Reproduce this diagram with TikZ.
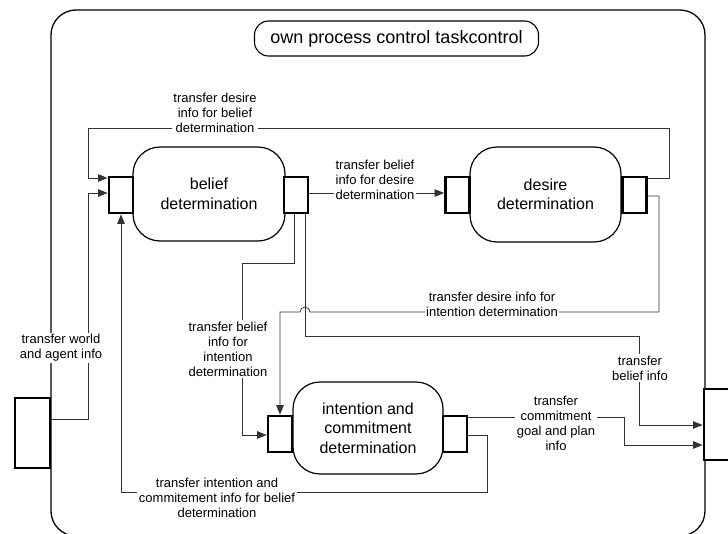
\documentclass[tikz,border=0pt]{standalone}
\usepackage{fontspec}
\setmainfont{Liberation Sans}
\usetikzlibrary{arrows.meta}
\begin{document}
\begin{tikzpicture}[x=1pt,y=-1pt,
  frame/.style={draw=black, line width=1.3pt, rounded corners=25pt},
  titlebox/.style={draw, line width=1.1pt, rounded corners=14pt, minimum width=284pt, minimum height=35pt, inner sep=0pt, font=\fontsize{18}{20}\selectfont},
  proc/.style={draw, line width=1.2pt, rounded corners=27pt, fill=white, align=center, inner sep=0pt, font=\fontsize{16}{19.5}\selectfont},
  port/.style={draw, line width=2.8pt, fill=white, minimum width=24pt, minimum height=36pt, inner sep=0pt},
  extbox/.style={draw, line width=2.8pt, fill=white, inner sep=0pt},
  flow/.style={draw=black!80, line width=0.75pt},
  arr/.style={flow, -{Triangle[length=9.5pt,width=7.5pt]}},
  lbl/.style={fill=white, align=center, inner sep=1.5pt, font=\fontsize{13}{15}\selectfont},
]
\useasboundingbox (0,0) rectangle (728,533);
\clip (0,0) rectangle (728,533);

% enclosing task control frame
\draw[frame] (51,10) rectangle (705,536);
\node[titlebox] (title) at (396.5,38.5) {own process control taskcontrol};

% processes
\node[proc, minimum width=152pt, minimum height=94pt] (belief) at (209,194) {belief\\determination};
\node[proc, minimum width=151pt, minimum height=95pt] (desire) at (545.5,194.5) {desire\\determination};
\node[proc, minimum width=150pt, minimum height=92pt] (intent) at (368,428) {intention and\\commitment\\determination};

% interface ports
\node[port] (bin)  at (121,195) {};
\node[port] (bout) at (296,195) {};
\node[port] (din)  at (457.5,195) {};
\node[port] (dout) at (634.5,195) {};
\node[port] (iin)  at (280,434) {};
\node[port] (iout) at (455,434) {};

% external input and output
\node[extbox, minimum width=35pt, minimum height=70pt] (world) at (32.5,433) {};
\node[extbox, minimum width=46pt, minimum height=71pt] (outside) at (727,424.5) {};

% information links
\draw[arr] (dout.east |- 0,178) -- (669,178) -- (669,128) -- (88,128) -- (88,178) -- (bin.west |- 0,178);
\draw[arr] (world.east |- 0,419) -- (88,419) -- (88,193) -- (bin.west |- 0,193);
\draw[arr] (bout.east |- 0,193) -- (din.west |- 0,193);
\draw[arr] (bout.south -| 294,0) -- (294,263) -- (242,263) -- (242,435) -- (iin.west |- 0,435);
\draw[arr] (bout.south -| 305,0) -- (305,336) -- (639,336) -- (639,425) -- (outside.west |- 0,425);
\draw[arr] (dout.east |- 0,196) -- (659,196) -- (659,312) -- (310,312)
  arc[start angle=0, end angle=-180, radius=5] -- (280,312) -- (iin.north);
\draw[arr] (iout.east |- 0,417) -- (624,417) -- (624,445) -- (outside.west |- 0,445);
\draw[arr] (iout.east |- 0,435) -- (487,435) -- (487,492) -- (121,492) -- (bin.south);

% link labels
\node[lbl] (l1) at (215,113) {transfer desire\\info for belief\\determination};
\node[lbl] (l2) at (61,348) {transfer world\\and agent info};
\node[lbl] (l3) at (375,180) {transfer belief\\info for desire\\determination};
\node[lbl] (l4) at (228,349) {transfer belief\\info for\\intention\\determination};
\node[lbl] (l5) at (640,368) {transfer\\belief info};
\node[lbl] (l6) at (492,304) {transfer desire info for\\intention determination};
\node[lbl] (l7) at (556,423) {transfer\\commitment\\goal and plan\\info};
\node[lbl] (l8) at (217,498) {transfer intention and\\commitement info for belief\\determination};
\end{tikzpicture}
\end{document}
